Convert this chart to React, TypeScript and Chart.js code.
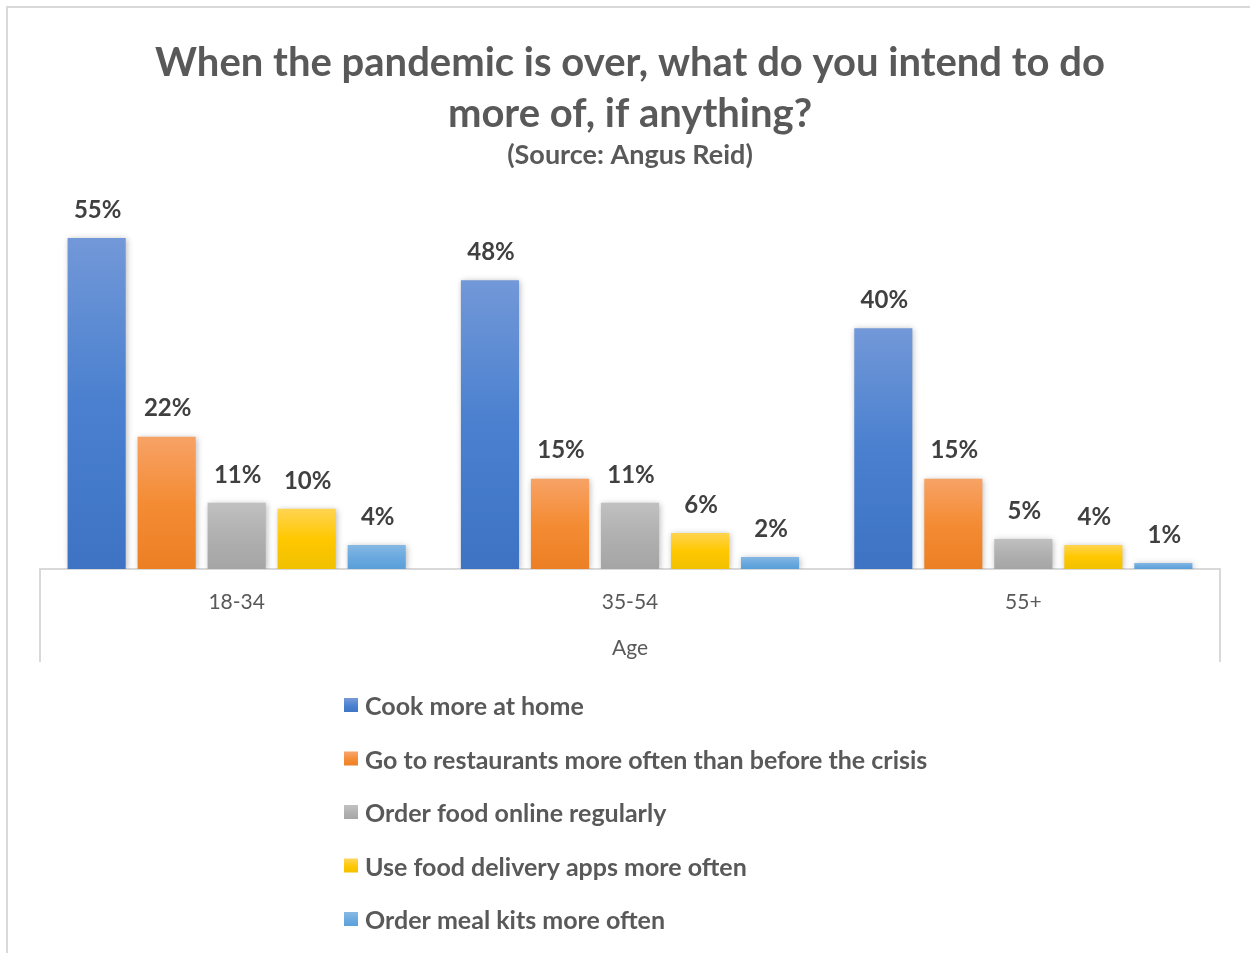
import React, { useEffect, useRef } from 'react';
import { Chart, registerables } from 'chart.js';

Chart.register(...registerables);

const titleLines = ['When the pandemic is over, what do you intend to do', 'more of, if anything?'];
const subtitleText = '(Source: Angus Reid)';
const axisTitle = 'Age';

const categories = ['18-34', '35-54', '55+'];
const seriesNames = [
  'Cook more at home',
  'Go to restaurants more often than before the crisis',
  'Order food online regularly',
  'Use food delivery apps more often',
  'Order meal kits more often',
];
const cookMoreAtHome = [55, 48, 40];
const goToRestaurants = [22, 15, 15];
const orderFoodOnline = [11, 11, 5];
const useDeliveryApps = [10, 6, 4];
const orderMealKits = [4, 2, 1];
const seriesValues = [cookMoreAtHome, goToRestaurants, orderFoodOnline, useDeliveryApps, orderMealKits];

const gradientStops: string[][] = [
  ['#7298d8', '#4a80cf', '#3e73c4'],
  ['#f7a266', '#f48c34', '#ec7f24'],
  ['#c0c0c0', '#b0b0b0', '#a5a5a5'],
  ['#ffd451', '#ffc800', '#f0c000'],
  ['#86b8e3', '#6aa9df', '#5a9fd9'],
];

const FONT = 'Lato';
const TEXT = '#595959';
const LABEL = '#404040';
const FRAME = '#d9d9d9';

function makeGradient(ctx: CanvasRenderingContext2D, top: number, bottom: number, stops: string[]) {
  const g = ctx.createLinearGradient(0, top, 0, bottom);
  g.addColorStop(0, stops[0]);
  g.addColorStop(0.5, stops[1]);
  g.addColorStop(1, stops[2]);
  return g;
}

const framePlugin = {
  id: 'frame',
  beforeDraw(chart: any) {
    const ctx = chart.ctx as CanvasRenderingContext2D;
    ctx.save();
    ctx.fillStyle = '#ffffff';
    ctx.fillRect(0, 0, chart.width, chart.height);
    ctx.strokeStyle = FRAME;
    ctx.lineWidth = 2;
    ctx.beginPath();
    ctx.moveTo(7, chart.height + 5);
    ctx.lineTo(7, 7);
    ctx.lineTo(chart.width + 5, 7);
    ctx.stroke();
    ctx.restore();
  },
};

const shadowPlugin = {
  id: 'barShadow',
  beforeDatasetsDraw(chart: any) {
    const ctx = chart.ctx as CanvasRenderingContext2D;
    ctx.save();
    ctx.shadowColor = 'rgba(0,0,0,0.28)';
    ctx.shadowBlur = 6;
    ctx.shadowOffsetX = 1;
    ctx.shadowOffsetY = 1;
  },
  afterDatasetsDraw(chart: any) {
    chart.ctx.restore();
  },
};

const labelPlugin = {
  id: 'valueLabels',
  afterDatasetsDraw(chart: any) {
    const ctx = chart.ctx as CanvasRenderingContext2D;
    ctx.save();
    ctx.font = `bold 24px ${FONT}`;
    ctx.fillStyle = LABEL;
    ctx.textAlign = 'center';
    ctx.textBaseline = 'middle';
    chart.data.datasets.forEach((ds: any, di: number) => {
      const meta = chart.getDatasetMeta(di);
      meta.data.forEach((el: any, i: number) => {
        ctx.fillText(`${ds.data[i]}%`, el.x + 1, el.y - 28);
      });
    });
    ctx.restore();
  },
};

const axisFramePlugin = {
  id: 'axisFrame',
  afterDraw(chart: any) {
    const ctx = chart.ctx as CanvasRenderingContext2D;
    const a = chart.chartArea;
    const x = chart.scales.x;
    ctx.save();
    ctx.strokeStyle = FRAME;
    ctx.lineWidth = 2;
    ctx.beginPath();
    ctx.moveTo(a.left, a.bottom);
    ctx.lineTo(a.left, x.bottom - 7);
    ctx.moveTo(a.right, a.bottom);
    ctx.lineTo(a.right, x.bottom - 7);
    ctx.stroke();
    ctx.restore();
  },
};

const legendPlugin = {
  id: 'verticalLegend',
  afterDraw(chart: any) {
    const ctx = chart.ctx as CanvasRenderingContext2D;
    const a = chart.chartArea;
    const left = 344;
    const firstY = a.bottom + 137;
    const step = 53.5;
    ctx.save();
    ctx.font = `bold 25px ${FONT}`;
    ctx.fillStyle = TEXT;
    ctx.textBaseline = 'middle';
    ctx.textAlign = 'left';
    chart.data.datasets.forEach((ds: any, i: number) => {
      const cy = firstY + i * step;
      ctx.fillStyle = makeGradient(ctx, cy - 7, cy + 7, gradientStops[i]);
      ctx.fillRect(left, cy - 8, 14, 14);
      ctx.fillStyle = TEXT;
      ctx.fillText(ds.label, left + 21, cy + 1);
    });
    ctx.restore();
  },
};

export default function App() {
  const canvasRef = useRef<HTMLCanvasElement | null>(null);

  useEffect(() => {
    if (!canvasRef.current) return;
    const chart = new Chart(canvasRef.current, {
      type: 'bar',
      data: {
        labels: categories,
        datasets: seriesNames.map((name, si) => ({
          label: name,
          data: seriesValues[si],
          backgroundColor: (c: any) => {
            const ch = c.chart;
            if (!ch.chartArea || c.type !== 'data') return gradientStops[si][1];
            const y = ch.scales.y;
            const top = y.getPixelForValue(c.raw as number);
            const bottom = y.getPixelForValue(0);
            return makeGradient(ch.ctx, top, bottom, gradientStops[si]);
          },
          borderWidth: 0,
          categoryPercentage: 0.89,
          barPercentage: 0.83,
        })),
      },
      options: {
        responsive: false,
        animation: false,
        devicePixelRatio: 1,
        layout: { padding: { left: 40, right: 30, top: 0, bottom: 284 } },
        plugins: {
          legend: { display: false },
          tooltip: { enabled: false },
          title: {
            display: true,
            text: titleLines,
            color: TEXT,
            font: { family: FONT, size: 40, weight: 'bold', lineHeight: 51 / 40 },
            padding: { top: 38, bottom: 0 },
          },
          subtitle: {
            display: true,
            text: subtitleText,
            color: TEXT,
            font: { family: FONT, size: 27, weight: 'bold', lineHeight: 1.2 },
            padding: { top: -1, bottom: 36.6 },
          },
        },
        scales: {
          x: {
            grid: { display: false, drawTicks: false },
            border: { display: true, color: FRAME, width: 2 },
            ticks: { color: TEXT, font: { family: FONT, size: 21 }, padding: 21 },
            title: {
              display: true,
              text: axisTitle,
              color: TEXT,
              font: { family: FONT, size: 21 },
              padding: { top: 0, bottom: 8 },
            },
            afterFit: (scale: any) => {
              scale.height = 100;
            },
          },
          y: {
            display: false,
            min: 0,
            max: 60,
            grid: { display: false },
          },
        },
      },
      plugins: [framePlugin, shadowPlugin, labelPlugin, axisFramePlugin, legendPlugin],
    });
    return () => chart.destroy();
  }, []);

  return (
    <div style={{ position: 'absolute', left: 0, top: 0, width: 1250, height: 953 }}>
      <canvas ref={canvasRef} width={1250} height={953} style={{ display: 'block', width: 1250, height: 953 }} />
    </div>
  );
}
